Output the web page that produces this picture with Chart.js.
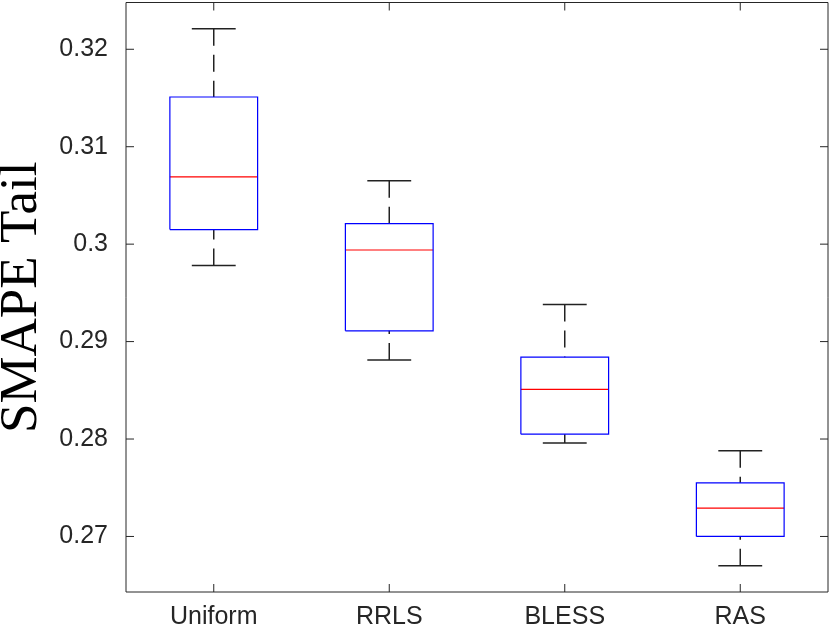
<!DOCTYPE html>
<html>
<head>
<meta charset="utf-8">
<script src="https://cdn.jsdelivr.net/npm/chart.js@4.4.1/dist/chart.umd.min.js"></script>
<style>
  html, body { margin: 0; padding: 0; background: #fff; }
  #c { display: block; }
</style>
</head>
<body>
<canvas id="c" width="830" height="628" style="width:830px;height:628px"></canvas>
<script>
const categories  = ['Uniform', 'RRLS', 'BLESS', 'RAS'];
const whiskerHigh = [0.3221, 0.3065, 0.2938, 0.2788];
const q3          = [0.3151, 0.3021, 0.2884, 0.2755];
const medians     = [0.3069, 0.2994, 0.2851, 0.2729];
const q1          = [0.3015, 0.2911, 0.2805, 0.2700];
const whiskerLow  = [0.2978, 0.2881, 0.2796, 0.2670];
const yTicks      = [0.27, 0.28, 0.29, 0.30, 0.31, 0.32];
const yRange      = [0.2643, 0.3248];
const yTitle      = 'SMAPE Tail';

const BOX_HALF = 0.25, CAP_HALF = 0.125;
const AXIS_COLOR = '#262626';

const datasets = [];
categories.forEach((name, i) => {
  const x = i + 1;
  const common = { showLine: true, pointRadius: 0, pointHoverRadius: 0, fill: false, tension: 0 };
  datasets.push(Object.assign({}, common, {
    label: name + ' box',
    data: [
      { x: x - BOX_HALF, y: q1[i] }, { x: x + BOX_HALF, y: q1[i] },
      { x: x + BOX_HALF, y: q3[i] }, { x: x - BOX_HALF, y: q3[i] },
      { x: x - BOX_HALF, y: q1[i] }
    ],
    borderColor: '#0000ff', borderWidth: 1.2
  }));
  datasets.push(Object.assign({}, common, {
    label: name + ' median',
    data: [{ x: x - BOX_HALF, y: medians[i] }, { x: x + BOX_HALF, y: medians[i] }],
    borderColor: '#ff0000', borderWidth: 1.2
  }));
  datasets.push(Object.assign({}, common, {
    label: name + ' upper whisker',
    data: [{ x: x, y: whiskerHigh[i] }, { x: x, y: q3[i] }],
    borderColor: '#222', borderWidth: 1.5, borderDash: [17, 9]
  }));
  datasets.push(Object.assign({}, common, {
    label: name + ' lower whisker',
    data: [{ x: x, y: whiskerLow[i] }, { x: x, y: q1[i] }],
    borderColor: '#222', borderWidth: 1.5, borderDash: [17, 9]
  }));
  datasets.push(Object.assign({}, common, {
    label: name + ' upper cap',
    data: [{ x: x - CAP_HALF, y: whiskerHigh[i] }, { x: x + CAP_HALF, y: whiskerHigh[i] }],
    borderColor: '#222', borderWidth: 1.5
  }));
  datasets.push(Object.assign({}, common, {
    label: name + ' lower cap',
    data: [{ x: x - CAP_HALF, y: whiskerLow[i] }, { x: x + CAP_HALF, y: whiskerLow[i] }],
    borderColor: '#222', borderWidth: 1.5
  }));
});

const framePlugin = {
  id: 'frame',
  afterDraw(chart) {
    const { ctx, chartArea: a, scales } = chart;
    const TL = 8;
    ctx.save();
    ctx.strokeStyle = AXIS_COLOR;
    ctx.lineWidth = 1;
    ctx.beginPath();
    ctx.rect(a.left, a.top, a.right - a.left, a.bottom - a.top);
    ctx.stroke();
    ctx.beginPath();
    scales.y.ticks.forEach(t => {
      const py = scales.y.getPixelForValue(t.value);
      ctx.moveTo(a.left, py); ctx.lineTo(a.left + TL, py);
      ctx.moveTo(a.right, py); ctx.lineTo(a.right - TL, py);
    });
    scales.x.ticks.forEach(t => {
      const px = scales.x.getPixelForValue(t.value);
      ctx.moveTo(px, a.bottom); ctx.lineTo(px, a.bottom - TL);
      ctx.moveTo(px, a.top); ctx.lineTo(px, a.top + TL);
    });
    ctx.stroke();
    ctx.restore();
  }
};

new Chart(document.getElementById('c'), {
  type: 'scatter',
  data: { datasets },
  plugins: [framePlugin],
  options: {
    responsive: false,
    animation: false,
    devicePixelRatio: 1,
    layout: { padding: { top: 2.5, right: 2, left: 0, bottom: 0 } },
    plugins: { legend: { display: false }, tooltip: { enabled: false } },
    events: [],
    scales: {
      x: {
        type: 'linear',
        min: 0.5, max: 4.5,
        grid: { display: false, drawTicks: false },
        border: { display: false },
        afterBuildTicks: s => { s.ticks = categories.map((c, i) => ({ value: i + 1 })); },
        afterFit: s => { s.height = 36; s.paddingLeft = 0; s.paddingRight = 0; },
        ticks: {
          padding: 10,
          maxRotation: 0,
          autoSkip: false,
          color: AXIS_COLOR,
          font: { family: '"Liberation Sans", Arial, sans-serif', size: 25 },
          callback: v => categories[Math.round(v) - 1]
        }
      },
      y: {
        type: 'linear',
        min: yRange[0], max: yRange[1],
        grid: { display: false, drawTicks: false },
        border: { display: false },
        afterBuildTicks: s => { s.ticks = yTicks.map(v => ({ value: v })); },
        afterFit: s => { s.width = 126; s.paddingTop = 0; s.paddingBottom = 0; },
        title: {
          display: true,
          text: yTitle,
          color: '#000',
          padding: 0,
          font: { family: '"Liberation Serif", "Times New Roman", serif', size: 53, lineHeight: 0.84 }
        },
        ticks: {
          padding: 18,
          color: AXIS_COLOR,
          font: { family: '"Liberation Sans", Arial, sans-serif', size: 25 },
          callback: v => String(+Number(v).toFixed(2))
        }
      }
    }
  }
});
</script>
</body>
</html>
